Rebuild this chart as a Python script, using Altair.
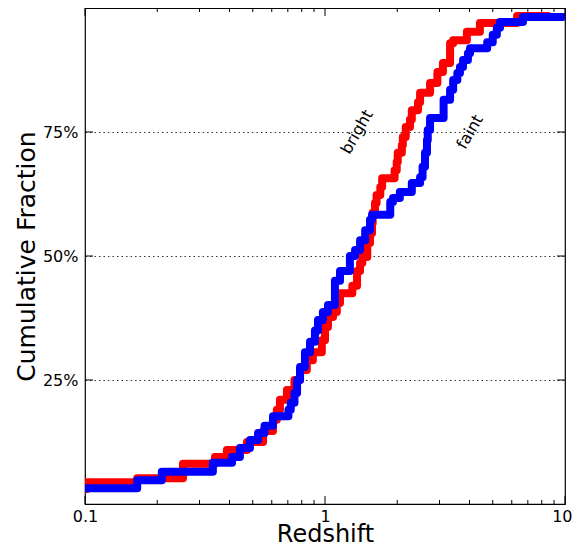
import altair as alt
import pandas as pd

# ---- data ----
bright_z = [0.1, 0.102, 0.165, 0.256, 0.348, 0.39, 0.473, 0.552, 0.607, 0.63, 0.649, 0.694,
            0.746, 0.787, 0.84, 0.89, 0.97, 1.0, 1.029, 1.08, 1.12, 1.155, 1.30, 1.36, 1.40,
            1.43, 1.50, 1.54, 1.57, 1.58, 1.616, 1.64, 1.70, 1.73, 1.95, 1.99, 2.01, 2.09,
            2.11, 2.17, 2.26, 2.30, 2.44, 2.49, 2.74, 2.94, 3.10, 3.32, 3.42, 3.90, 4.42,
            6.31, 8.5]
bright_f = [0.03, 0.044, 0.052, 0.081, 0.095, 0.109, 0.125, 0.147, 0.17, 0.19, 0.21, 0.23,
            0.25, 0.27, 0.29, 0.306, 0.33, 0.357, 0.377, 0.387, 0.405, 0.425, 0.44, 0.47,
            0.486, 0.498, 0.526, 0.546, 0.566, 0.587, 0.607, 0.623, 0.639, 0.657, 0.673,
            0.69, 0.708, 0.724, 0.74, 0.76, 0.775, 0.794, 0.81, 0.829, 0.849, 0.871, 0.889,
            0.929, 0.935, 0.952, 0.97, 0.984, 0.984]

faint_z = [0.1, 0.165, 0.209, 0.341, 0.41, 0.442, 0.487, 0.526, 0.56, 0.607, 0.704, 0.72,
           0.746, 0.765, 0.787, 0.825, 0.866, 0.908, 0.935, 0.98, 1.029, 1.1, 1.155, 1.27,
           1.334, 1.40, 1.47, 1.54, 1.57, 1.87, 1.92, 2.05, 2.30, 2.49, 2.55, 2.61, 2.66,
           2.68, 2.74, 3.12, 3.32, 3.42, 3.56, 3.65, 3.76, 3.94, 4.02, 4.74, 5.0, 5.2, 5.36,
           6.68, 9.8]
faint_f = [0.032, 0.048, 0.065, 0.083, 0.095, 0.113, 0.129, 0.143, 0.158, 0.177, 0.19, 0.204,
           0.224, 0.25, 0.276, 0.306, 0.327, 0.35, 0.371, 0.387, 0.401, 0.45, 0.47, 0.5,
           0.512, 0.532, 0.552, 0.573, 0.583, 0.609, 0.617, 0.629, 0.647, 0.659, 0.68, 0.708,
           0.734, 0.754, 0.778, 0.815, 0.835, 0.855, 0.869, 0.881, 0.895, 0.909, 0.919, 0.931,
           0.946, 0.96, 0.972, 0.982, 0.982]

ann_text = ["bright", "faint"]
ann_z = [1.36, 4.02]
ann_f = [0.75, 0.75]

x_major = [0.1, 1, 10]
x_minor = [0.2, 0.3, 0.4, 0.5, 0.6, 0.7, 0.8, 0.9, 2, 3, 4, 5, 6, 7, 8, 9]
y_ticks = [0.25, 0.5, 0.75]

W, H = 480, 496
FONT = "DejaVu Sans"

df = pd.DataFrame({
    "z": bright_z + faint_z,
    "f": bright_f + faint_f,
    "sample": ["bright"] * len(bright_z) + ["faint"] * len(faint_z),
})
ann = pd.DataFrame({"z": ann_z, "f": ann_f, "label": ann_text})
xmaj = pd.DataFrame({"z": x_major})
xmin = pd.DataFrame({"z": x_minor})
yt = pd.DataFrame({"f": y_ticks})

xscale = alt.Scale(type="log", domain=[0.1, 10], nice=False)
yscale = alt.Scale(domain=[0, 1], nice=False)
xaxis = alt.Axis(
    values=x_major, format="~g", title="Redshift", grid=False,
    labelFlush=False, labelOverlap=False, labelPadding=4,
    labelAlign={"condition": {"test": "datum.value >= 10", "value": "right"}, "value": "center"},
    labelOffset={"condition": {"test": "datum.value >= 10", "value": 7}, "value": 0},
    titleBaseline="alphabetic", titleY=37, titleFontSize=24,
)
yaxis = alt.Axis(values=y_ticks, format=".0%", title="Cumulative Fraction", grid=True,
                 gridDash=[1.5, 3], gridColor="#000000", gridWidth=0.8, gridOpacity=1,
                 labelFlush=False, labelOverlap=False, labelPadding=7, titlePadding=3)


def X():
    return alt.X("z:Q", scale=xscale, axis=xaxis)


def Y():
    return alt.Y("f:Q", scale=yscale, axis=yaxis)


lines = alt.Chart(df).mark_line(
    strokeWidth=8, interpolate="step-after", strokeCap="round", strokeJoin="round", clip=True
).encode(
    x=X(), y=Y(),
    color=alt.Color("sample:N", scale=alt.Scale(domain=["bright", "faint"],
                                                range=["#ff0000", "#0000ff"]), legend=None),
)

texts = alt.Chart(ann).mark_text(
    angle=300, align="center", baseline="middle", font=FONT, fontSize=16, color="#000000"
).encode(x=X(), y=Y(), text="label:N")

tick_style = dict(color="#000000", strokeWidth=1)
bmaj = alt.Chart(xmaj).mark_rule(**tick_style).encode(x=X(), y=alt.value(H), y2=alt.value(H - 8))
tmaj = alt.Chart(xmaj).mark_rule(**tick_style).encode(x=X(), y=alt.value(0), y2=alt.value(8))
bmin = alt.Chart(xmin).mark_rule(**tick_style).encode(x=X(), y=alt.value(H), y2=alt.value(H - 4))
tmin = alt.Chart(xmin).mark_rule(**tick_style).encode(x=X(), y=alt.value(0), y2=alt.value(4))
lyt = alt.Chart(yt).mark_rule(**tick_style).encode(y=Y(), x=alt.value(0), x2=alt.value(8))
ryt = alt.Chart(yt).mark_rule(**tick_style).encode(y=Y(), x=alt.value(W), x2=alt.value(W - 8))

chart = alt.layer(lines, texts, bmaj, tmaj, bmin, tmin, lyt, ryt).properties(
    width=W, height=H,
    autosize=alt.AutoSizeParams(type="none"),
    padding={"left": 77, "top": 0, "right": 8, "bottom": 38},
).configure_view(
    stroke="#000000", strokeWidth=1.2
).configure_axis(
    domain=False, ticks=False,
    labelFont=FONT, labelFontSize=16, labelColor="#000000",
    titleFont=FONT, titleFontSize=25, titleFontWeight="normal", titleColor="#000000",
)

chart.save("out.html", embed_options={"renderer": "svg", "actions": False})
